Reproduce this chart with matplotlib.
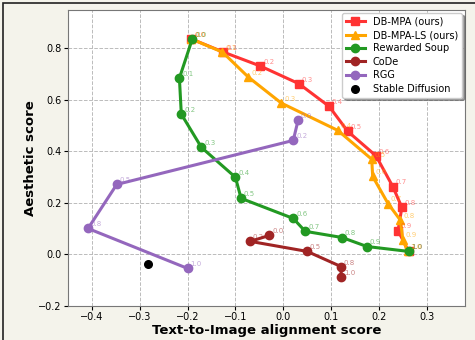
import matplotlib
matplotlib.use("Agg")
import matplotlib.pyplot as plt
from matplotlib.patches import Rectangle

# interpolation weights shown next to each point
dbmpa_w = ["0.0", "0.1", "0.2", "0.3", "0.4", "0.5", "0.6", "0.7", "0.8", "0.9", "1.0"]
dbmpa_x = [-0.192, -0.125, -0.048, 0.033, 0.096, 0.135, 0.194, 0.229, 0.248, 0.240, 0.262]
dbmpa_y = [0.837, 0.786, 0.732, 0.663, 0.575, 0.478, 0.383, 0.264, 0.183, 0.093, 0.012]

ls_w = ["0.0", "0.1", "0.2", "0.3", "0.4", "0.5", "0.6", "0.7", "0.8", "0.9", "1.0"]
ls_x = [-0.192, -0.127, -0.073, -0.004, 0.114, 0.185, 0.187, 0.219, 0.245, 0.250, 0.260]
ls_y = [0.837, 0.786, 0.689, 0.588, 0.482, 0.370, 0.303, 0.198, 0.133, 0.058, 0.012]

rs_w = ["0.0", "0.1", "0.2", "0.3", "0.4", "0.5", "0.6", "0.7", "0.8", "0.9", "1.0"]
rs_x = [-0.190, -0.217, -0.213, -0.171, -0.100, -0.088, 0.021, 0.046, 0.123, 0.175, 0.262]
rs_y = [0.837, 0.685, 0.545, 0.416, 0.300, 0.218, 0.140, 0.090, 0.066, 0.031, 0.012]

code_w = ["0.0", "0.2", "0.5", "0.8", "1.0"]
code_x = [-0.029, -0.069, 0.050, 0.121, 0.121]
code_y = [0.074, 0.051, 0.012, -0.047, -0.089]

rgg_w = ["0.0", "0.2", "0.5", "0.8", "1.0"]
rgg_x = [0.031, 0.021, -0.348, -0.408, -0.200]
rgg_y = [0.521, 0.443, 0.272, 0.101, -0.054]

sd_x = [-0.283]
sd_y = [-0.035]

series = [
    ("DB-MPA (ours)", dbmpa_x, dbmpa_y, dbmpa_w, "#ff3333", "s"),
    ("DB-MPA-LS (ours)", ls_x, ls_y, ls_w, "#ffa500", "^"),
    ("Rewarded Soup", rs_x, rs_y, rs_w, "#229922", "o"),
    ("CoDe", code_x, code_y, code_w, "#a02424", "o"),
    ("RGG", rgg_x, rgg_y, rgg_w, "#9467bd", "o"),
]

fig = plt.figure(figsize=(4.75, 3.4), dpi=100, facecolor="#f4f3eb")
ax = fig.add_axes([0.143, 0.1, 0.836, 0.871])

for name, xs, ys, ws, c, m in series:
    ax.plot(xs, ys, color=c, marker=m, lw=2.2, ms=6, label=name, zorder=3)
    for x, y, w in zip(xs, ys, ws):
        ax.annotate(w, (x, y), xytext=(2, 1.5), textcoords="offset points",
                    fontsize=5, color=c, alpha=0.55, zorder=4)

ax.scatter(sd_x, sd_y, color="black", s=30, label="Stable Diffusion", zorder=3)

ax.set_xlim(-0.45, 0.38)
ax.set_ylim(-0.2, 0.95)
ax.set_xticks([-0.4, -0.3, -0.2, -0.1, 0.0, 0.1, 0.2, 0.3])
ax.set_yticks([-0.2, 0.0, 0.2, 0.4, 0.6, 0.8])
ax.tick_params(labelsize=7, length=3, pad=1.5)
ax.grid(True, ls="--", color="#bbbbbb", lw=0.7)
ax.set_axisbelow(True)
for s in ax.spines.values():
    s.set_color("#777777")

ax.set_xlabel("Text-to-Image alignment score", fontsize=9.5, fontweight="bold", labelpad=1)
ax.set_ylabel("Aesthetic score", fontsize=9.5, fontweight="bold", labelpad=1)

ax.legend(loc="upper right", fontsize=7, shadow=True, framealpha=1,
          handlelength=2, borderaxespad=0.3, labelspacing=0.35)

# outer frame around the figure
fig.patches.append(Rectangle((0.006, -0.1), 1.2, 1.091, transform=fig.transFigure,
                             fill=False, edgecolor="#222222", lw=1.2))

fig.savefig("out.png", dpi=100, facecolor=fig.get_facecolor())
